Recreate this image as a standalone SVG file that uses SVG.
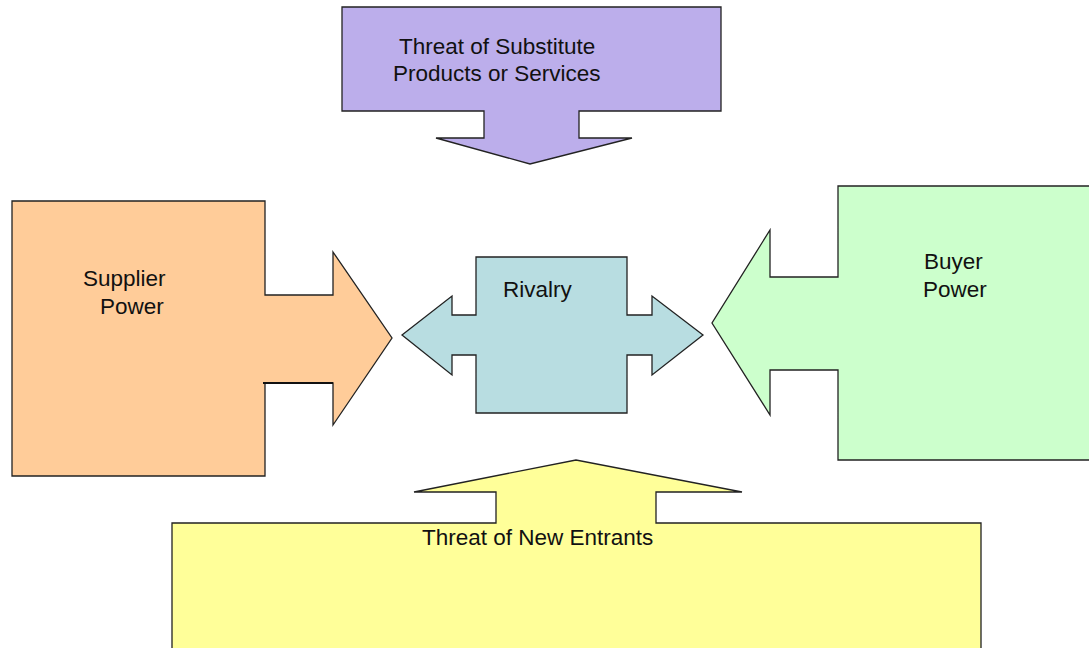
<svg xmlns="http://www.w3.org/2000/svg" width="1089" height="648" viewBox="0 0 1089 648">
<style>
.s{stroke:#222;stroke-width:1.3;stroke-linejoin:miter}
.t{font-family:"Liberation Sans",Arial,sans-serif;font-size:22.5px;fill:#111}
</style>
<rect width="1089" height="648" fill="#fff"/>
<g id="substitutes">
<path class="s" fill="#BCAEEB" d="M342,7 H721 V111 H579 V138 H632 L530,164 L436,138 H484 V111 H342 Z"/>
<text class="t" x="399" y="54">Threat of Substitute</text>
<text class="t" x="393" y="81">Products or Services</text>
</g>
<g id="supplier">
<path class="s" fill="#FFCC99" d="M12,201 H265 V295 H333 V252 L392,338 L333,425 V383 H265 V476 H12 Z"/>
<line x1="263" y1="383" x2="333" y2="383" stroke="#111" stroke-width="2.2"/>
<text class="t" x="83" y="286">Supplier</text>
<text class="t" x="100" y="314">Power</text>
</g>
<g id="buyer">
<path class="s" fill="#CCFFCC" d="M1090,186 H838 V277 H770 V230 L712,323 L770,415 V370 H838 V460 H1090 Z"/>
<text class="t" x="924" y="269">Buyer</text>
<text class="t" x="923" y="297">Power</text>
</g>
<g id="rivalry">
<path class="s" fill="#B8DDE1" d="M476,257 H627 V315 H652 V296 L703,335 L652,375 V355 H627 V413 H476 V355 H452 V375 L402,335 L452,296 V315 H476 Z"/>
<text class="t" x="503" y="297">Rivalry</text>
</g>
<g id="entrants">
<path class="s" fill="#FFFF99" d="M172,650 V523 H496 V492 H414 L576,460 L742,492 H656 V523 H981 V650 Z"/>
<text class="t" x="422" y="545">Threat of New Entrants</text>
</g>
<g id="connectors"></g>
</svg>
